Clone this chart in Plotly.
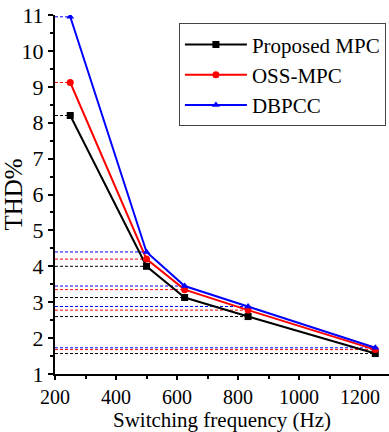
import plotly.graph_objects as go

freq = [250, 500, 625, 833, 1250]
proposed = [8.2, 4.0, 3.13, 2.6, 1.57]
oss = [9.12, 4.2, 3.35, 2.78, 1.68]
dbpcc = [10.95, 4.4, 3.45, 2.88, 1.73]

series = [
    ("Proposed MPC", proposed, "black", "square"),
    ("OSS-MPC", oss, "red", "circle"),
    ("DBPCC", dbpcc, "blue", "triangle-up"),
]

XMIN, XMAX = 200, 1295
FONT = "Times New Roman, Liberation Serif, serif"

fig = go.Figure()
for name, vals, color, sym in series:
    for xv, yv in zip(freq, vals):
        fig.add_trace(go.Scatter(x=[XMIN, xv], y=[yv, yv], mode="lines",
                                 line=dict(color=color, width=1, dash="3px,2px"),
                                 showlegend=False, hoverinfo="skip"))
for name, vals, color, sym in series:
    fig.add_trace(go.Scatter(x=freq, y=vals, mode="lines+markers", name=name,
                             line=dict(color=color, width=2),
                             marker=dict(symbol=sym, size=7, color=color)))

fig.update_layout(
    width=389, height=432,
    margin=dict(l=55, r=0, t=15, b=58),
    paper_bgcolor="white", plot_bgcolor="white",
    font=dict(family=FONT, size=22, color="black"),
    legend=dict(x=0.371, y=0.977, xanchor="left", yanchor="top",
                bordercolor="#444", borderwidth=1, bgcolor="white",
                font=dict(family=FONT, size=21), tracegroupgap=0, itemwidth=62),
    xaxis=dict(range=[XMIN, XMAX], tickvals=[200, 400, 600, 800, 1000, 1200],
               tickfont=dict(family=FONT, size=20),
               showline=True, linecolor="black", linewidth=2, showgrid=False, zeroline=False,
               ticks="outside", ticklen=4, tickwidth=1.5, tickcolor="black",
               minor=dict(tickvals=[300, 500, 700, 900, 1100], ticks="outside", ticklen=3,
                          tickcolor="black", tickwidth=1.5),
               title=dict(text="Switching frequency (Hz)", standoff=4,
                          font=dict(family=FONT, size=21))),
    yaxis=dict(range=[1, 11], tickvals=list(range(1, 12)),
               tickfont=dict(family=FONT, size=22),
               showline=True, linecolor="black", linewidth=2, showgrid=False, zeroline=False,
               ticks="outside", ticklen=5, tickwidth=1.5, tickcolor="black",
               minor=dict(tickvals=[x + 0.5 for x in range(1, 11)], ticks="outside", ticklen=3,
                          tickcolor="black", tickwidth=1.5),
               title=dict(text="THD%", standoff=0, font=dict(family=FONT, size=25))),
)

fig.write_html("out.html")
